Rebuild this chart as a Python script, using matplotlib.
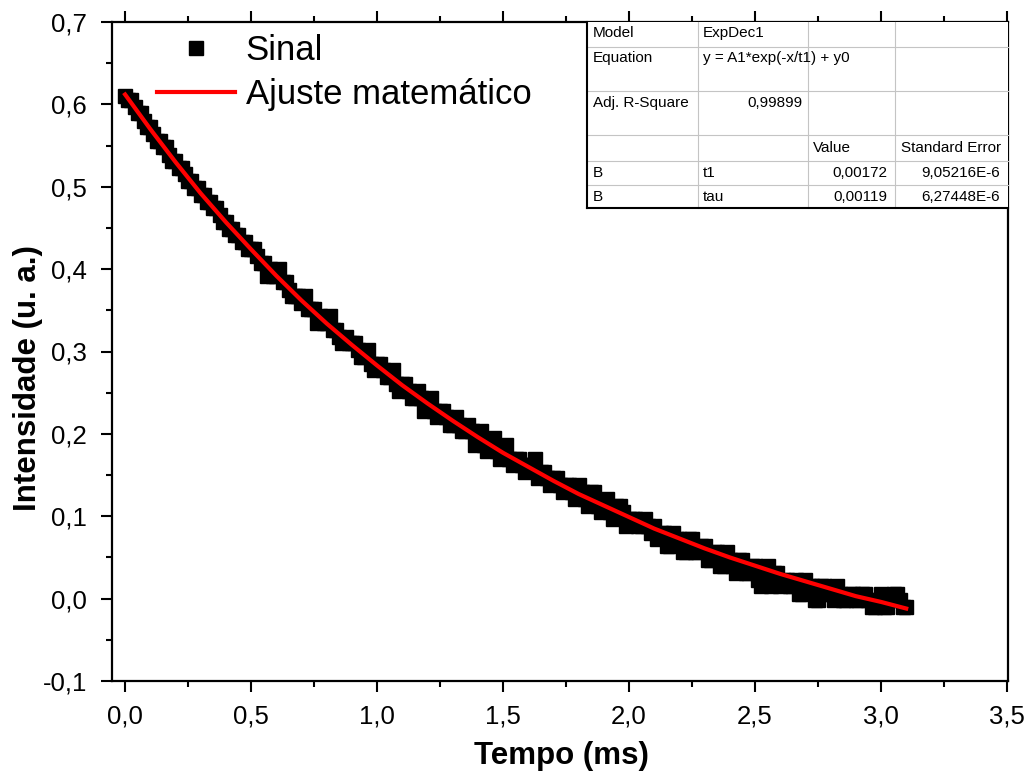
import matplotlib
matplotlib.use('Agg')
import matplotlib.pyplot as plt
from matplotlib.ticker import FixedLocator, FixedFormatter, AutoMinorLocator
from matplotlib.lines import Line2D
from matplotlib.patches import Rectangle

plt.rcParams['font.family'] = ['Liberation Sans', 'DejaVu Sans']

# ---------------- data ----------------
# signal samples (even samples)
sinal_t = [
    0.000, 0.025, 0.050, 0.075, 0.100, 0.125, 0.150, 0.175, 0.200, 0.225,
    0.250, 0.275, 0.300, 0.325, 0.350, 0.375, 0.400, 0.425, 0.450, 0.475,
    0.500, 0.525, 0.550, 0.575, 0.600, 0.625, 0.650, 0.675, 0.700, 0.725,
    0.750, 0.775, 0.800, 0.825, 0.850, 0.875, 0.900, 0.925, 0.950, 0.975,
    1.000, 1.025, 1.050, 1.075, 1.100, 1.125, 1.150, 1.175, 1.200, 1.225,
    1.250, 1.275, 1.300, 1.325, 1.350, 1.375, 1.400, 1.425, 1.450, 1.475,
    1.500, 1.525, 1.550, 1.575, 1.600, 1.625, 1.650, 1.675, 1.700, 1.725,
    1.750, 1.775, 1.800, 1.825, 1.850, 1.875, 1.900, 1.925, 1.950, 1.975,
    2.000, 2.025, 2.050, 2.075, 2.100, 2.125, 2.150, 2.175, 2.200, 2.225,
    2.250, 2.275, 2.300, 2.325, 2.350, 2.375, 2.400, 2.425, 2.450, 2.475,
    2.500, 2.525, 2.550, 2.575, 2.600, 2.625, 2.650, 2.675, 2.700, 2.725,
    2.750, 2.775, 2.800, 2.825, 2.850, 2.875, 2.900, 2.925, 2.950, 2.975,
    3.000, 3.025, 3.050, 3.075, 3.100,
]
sinal_y = [
    0.610, 0.605, 0.589, 0.580, 0.572, 0.556, 0.548, 0.539, 0.531, 0.523,
    0.507, 0.498, 0.490, 0.482, 0.474, 0.466, 0.457, 0.449, 0.441, 0.433,
    0.425, 0.416, 0.408, 0.400, 0.392, 0.384, 0.375, 0.367, 0.359, 0.351,
    0.351, 0.343, 0.334, 0.326, 0.318, 0.318, 0.310, 0.302, 0.293, 0.285,
    0.285, 0.277, 0.269, 0.261, 0.261, 0.252, 0.244, 0.244, 0.236, 0.228,
    0.228, 0.220, 0.211, 0.211, 0.203, 0.203, 0.195, 0.187, 0.187, 0.179,
    0.179, 0.170, 0.170, 0.162, 0.162, 0.170, 0.154, 0.146, 0.146, 0.138,
    0.138, 0.129, 0.138, 0.121, 0.129, 0.113, 0.113, 0.105, 0.113, 0.105,
    0.097, 0.097, 0.088, 0.088, 0.088, 0.080, 0.064, 0.080, 0.072, 0.056,
    0.072, 0.056, 0.064, 0.047, 0.056, 0.039, 0.047, 0.031, 0.047, 0.031,
    0.039, 0.015, 0.039, 0.031, 0.015, 0.023, 0.015, 0.006, 0.023, 0.015,
    -0.002, 0.015, 0.006, 0.015, -0.002, 0.006, -0.002, 0.006, -0.002, -0.010,
    0.006, -0.010, 0.006, -0.002, -0.010,
]
# signal samples (odd samples, in between)
sinal_t2 = [
    0.0125, 0.0375, 0.0625, 0.0875, 0.1125, 0.1375, 0.1625, 0.1875, 0.2125, 0.2375,
    0.2625, 0.2875, 0.3125, 0.3375, 0.3625, 0.3875, 0.4125, 0.4375, 0.4625, 0.4875,
    0.5125, 0.5375, 0.5625, 0.5875, 0.6125, 0.6375, 0.6625, 0.6875, 0.7125, 0.7375,
    0.7625, 0.7875, 0.8125, 0.8375, 0.8625, 0.8875, 0.9125, 0.9375, 0.9625, 0.9875,
    1.0125, 1.0375, 1.0625, 1.0875, 1.1125, 1.1375, 1.1625, 1.1875, 1.2125, 1.2375,
    1.2625, 1.2875, 1.3125, 1.3375, 1.3625, 1.3875, 1.4125, 1.4375, 1.4625, 1.4875,
    1.5125, 1.5375, 1.5625, 1.5875, 1.6125, 1.6375, 1.6625, 1.6875, 1.7125, 1.7375,
    1.7625, 1.7875, 1.8125, 1.8375, 1.8625, 1.8875, 1.9125, 1.9375, 1.9625, 1.9875,
    2.0125, 2.0375, 2.0625, 2.0875, 2.1125, 2.1375, 2.1625, 2.1875, 2.2125, 2.2375,
    2.2625, 2.2875, 2.3125, 2.3375, 2.3625, 2.3875, 2.4125, 2.4375, 2.4625, 2.4875,
    2.5125, 2.5375, 2.5625, 2.5875, 2.6125, 2.6375, 2.6625, 2.6875, 2.7125, 2.7375,
    2.7625, 2.7875, 2.8125, 2.8375, 2.8625, 2.8875, 2.9125, 2.9375, 2.9625, 2.9875,
    3.0125, 3.0375, 3.0625, 3.0875,
]
sinal_y2 = [
    0.605, 0.597, 0.589, 0.572, 0.564, 0.556, 0.548, 0.531, 0.523, 0.515,
    0.507, 0.498, 0.490, 0.482, 0.474, 0.457, 0.449, 0.441, 0.433, 0.425,
    0.425, 0.408, 0.392, 0.392, 0.400, 0.384, 0.367, 0.367, 0.367, 0.351,
    0.334, 0.334, 0.343, 0.326, 0.310, 0.310, 0.310, 0.293, 0.302, 0.277,
    0.285, 0.269, 0.277, 0.252, 0.261, 0.244, 0.252, 0.228, 0.244, 0.220,
    0.228, 0.211, 0.220, 0.203, 0.211, 0.187, 0.203, 0.179, 0.195, 0.170,
    0.187, 0.162, 0.170, 0.154, 0.162, 0.146, 0.154, 0.138, 0.146, 0.129,
    0.138, 0.121, 0.129, 0.113, 0.129, 0.105, 0.121, 0.097, 0.113, 0.088,
    0.097, 0.088, 0.097, 0.080, 0.072, 0.080, 0.064, 0.072, 0.056, 0.072,
    0.056, 0.064, 0.047, 0.056, 0.039, 0.056, 0.039, 0.047, 0.031, 0.039,
    0.023, 0.031, 0.015, 0.031, 0.023, 0.015, 0.023, 0.006, 0.015, -0.002,
    0.015, 0.006, -0.002, 0.006, -0.002, 0.006, -0.002, 0.006, -0.010, -0.002,
    -0.010, -0.002, 0.006, -0.010,
]
ajuste_t = [0.0, 0.1, 0.2, 0.3, 0.4, 0.5, 0.6, 0.7, 0.8, 0.9, 1.0, 1.1, 1.2, 1.3,
            1.4, 1.5, 1.6, 1.7, 1.8, 1.9, 2.0, 2.1, 2.2, 2.3, 2.4, 2.5, 2.6, 2.7,
            2.8, 2.9, 3.0, 3.1]
ajuste_y = [0.612, 0.570, 0.530, 0.492, 0.457, 0.424, 0.392, 0.362, 0.334, 0.308,
            0.283, 0.259, 0.237, 0.216, 0.196, 0.177, 0.160, 0.143, 0.127, 0.113,
            0.099, 0.085, 0.073, 0.061, 0.050, 0.040, 0.030, 0.021, 0.012, 0.003,
            -0.004, -0.012]

x_ticks = [0.0, 0.5, 1.0, 1.5, 2.0, 2.5, 3.0, 3.5]
x_ticklabels = ['0,0', '0,5', '1,0', '1,5', '2,0', '2,5', '3,0', '3,5']
y_ticks = [-0.1, 0.0, 0.1, 0.2, 0.3, 0.4, 0.5, 0.6, 0.7]
y_ticklabels = ['-0,1', '0,0', '0,1', '0,2', '0,3', '0,4', '0,5', '0,6', '0,7']
legend_labels = ['Sinal', 'Ajuste matemático']
x_label = 'Tempo (ms)'
y_label = 'Intensidade (u. a.)'
table_rows = [
    ['Model', 'ExpDec1', '', ''],
    ['Equation', 'y = A1*exp(-x/t1) + y0', '', ''],
    ['Adj. R-Square', '0,99899', '', ''],
    ['', '', 'Value', 'Standard Error'],
    ['B', 't1', '0,00172', '9,05216E-6'],
    ['B', 'tau', '0,00119', '6,27448E-6'],
]

# ---------------- figure ----------------
W, H = 1033, 775
fig = plt.figure(figsize=(W / 100, H / 100), dpi=100)


def fx(px):
    return px / W


def fy(py):
    return 1 - py / H


ax_l, ax_r, ax_t, ax_b = 112, 1008, 22, 681
ax = fig.add_axes([fx(ax_l), fy(ax_b), fx(ax_r) - fx(ax_l), fy(ax_t) - fy(ax_b)])

ax.plot(sinal_t + sinal_t2, sinal_y + sinal_y2, linestyle='none', marker='s',
        markersize=10, color='black', markeredgecolor='black',
        label=legend_labels[0], zorder=2)
ax.plot(ajuste_t, ajuste_y, color='#ff0000', linewidth=3, label=legend_labels[1],
        zorder=3)

ax.set_xlim(-0.052, 3.504)
ax.set_ylim(-0.1, 0.7)

ax.xaxis.set_major_locator(FixedLocator(x_ticks))
ax.xaxis.set_major_formatter(FixedFormatter(x_ticklabels))
ax.yaxis.set_major_locator(FixedLocator(y_ticks))
ax.yaxis.set_major_formatter(FixedFormatter(y_ticklabels))
ax.xaxis.set_minor_locator(AutoMinorLocator(2))
ax.yaxis.set_minor_locator(AutoMinorLocator(2))

ax.tick_params(which='both', direction='out', width=1.5, colors='black',
               top=True, right=False, labeltop=False, labelright=False)
ax.tick_params(which='major', length=8, labelsize=18.5)
ax.tick_params(axis='x', which='major', pad=9)
ax.tick_params(axis='y', which='major', pad=10)
ax.tick_params(which='minor', length=4.5)
for s in ax.spines.values():
    s.set_linewidth(1.6)
    s.set_color('black')

fig.text(fx(561), fy(764), x_label, ha='center', va='baseline',
         fontsize=22.5, fontweight='bold')
fig.text(fx(28), fy(378), y_label, ha='center', va='center', rotation=90,
         fontsize=22.5, fontweight='bold')

leg = ax.legend(loc='upper left', bbox_to_anchor=(fx(157), fy(34)),
                bbox_transform=fig.transFigure, frameon=False, fontsize=25,
                handlelength=2.25, handletextpad=0.3, borderpad=0,
                borderaxespad=0, labelspacing=0.32, numpoints=1)

# ---------------- results table ----------------
t_left, t_right, t_top, t_bot = 587, 1008, 22, 208
col_lines = [698, 808, 895]
row_lines = [47, 91, 135, 161, 185]
baselines = [37, 62, 107, 152, 177, 201]
col_left = [593, 703, 813, 901]
col_right = [None, 803, 887, 1000]

fig.add_artist(Rectangle((fx(t_left), fy(t_bot)), fx(t_right) - fx(t_left),
                         fy(t_top) - fy(t_bot), transform=fig.transFigure,
                         facecolor='white', edgecolor='none', zorder=5))
for cx in col_lines:
    fig.add_artist(Line2D([fx(cx), fx(cx)], [fy(t_top), fy(t_bot)],
                          transform=fig.transFigure, color='#c4c4c4',
                          linewidth=0.8, zorder=6))
for ry in row_lines:
    fig.add_artist(Line2D([fx(t_left), fx(t_right)], [fy(ry), fy(ry)],
                          transform=fig.transFigure, color='#c4c4c4',
                          linewidth=0.8, zorder=6))
fig.add_artist(Line2D([fx(t_left), fx(t_left)], [fy(t_top), fy(t_bot)],
                      transform=fig.transFigure, color='black', linewidth=1.5,
                      zorder=7))
fig.add_artist(Line2D([fx(t_left), fx(t_right)], [fy(t_bot), fy(t_bot)],
                      transform=fig.transFigure, color='black', linewidth=1.5,
                      zorder=7))

for r, row in enumerate(table_rows):
    for c, txt in enumerate(row):
        if not txt:
            continue
        numeric = txt[0].isdigit() and c > 0
        if numeric:
            fig.text(fx(col_right[c]), fy(baselines[r]), txt, ha='right',
                     va='baseline', fontsize=11, zorder=8)
        else:
            fig.text(fx(col_left[c]), fy(baselines[r]), txt, ha='left',
                     va='baseline', fontsize=11, zorder=8)

fig.savefig('out.png', dpi=100)
